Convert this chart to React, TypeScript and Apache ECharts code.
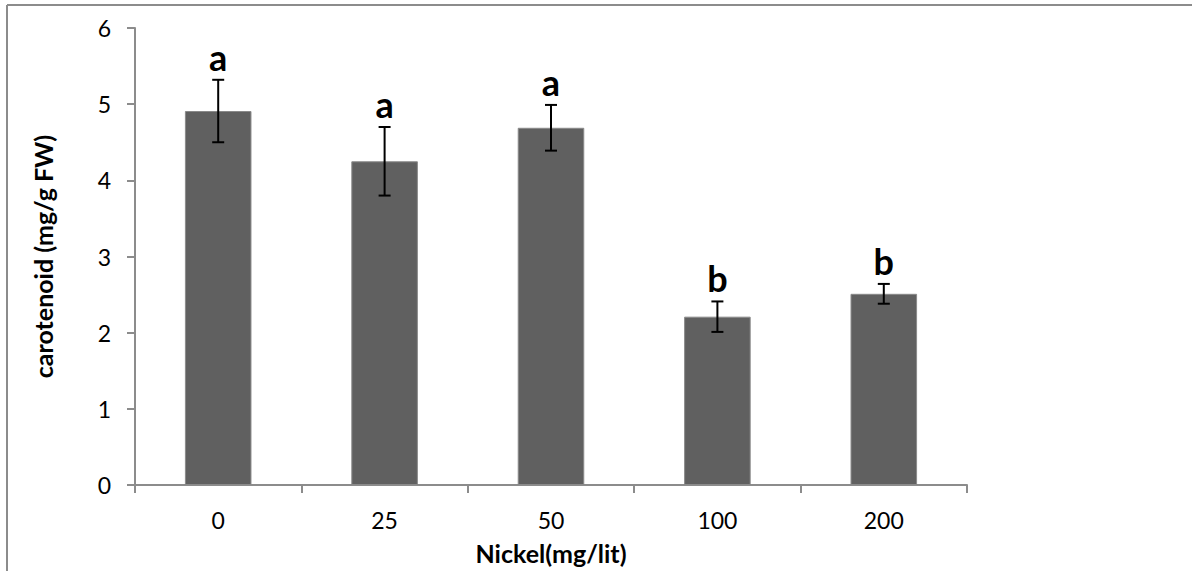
import React, { useEffect, useRef } from "react";
import * as echarts from "echarts";

const categories = ["0", "25", "50", "100", "200"];
const means = [4.91, 4.25, 4.69, 2.21, 2.51];
const errors = [0.41, 0.45, 0.3, 0.2, 0.13];
const letters = ["a", "a", "a", "b", "b"];
const yTicks = { min: 0, max: 6, interval: 1 };

export default function App() {
  const ref = useRef<HTMLDivElement>(null);
  useEffect(() => {
    if (!ref.current) return;
    const chart = echarts.init(ref.current, undefined, { renderer: "svg" });
    const font = "Lato";
    const errData = means.map((m, i) => [i, m, errors[i]]);
    chart.setOption({
      animation: false,
      backgroundColor: "#ffffff",
      grid: { left: 135, right: 225, top: 28, bottom: 86 },
      xAxis: {
        type: "category",
        data: categories,
        name: "Nickel(mg/lit)",
        nameLocation: "middle",
        nameGap: 55,
        nameTextStyle: { fontFamily: font, fontWeight: "bold", fontSize: 25, color: "#000" },
        axisLine: { lineStyle: { color: "#8c8c8c", width: 2 } },
        axisTick: { show: true, length: 8, lineStyle: { color: "#8c8c8c", width: 2 } },
        axisLabel: { fontFamily: font, fontSize: 23, color: "#000", margin: 23 },
      },
      yAxis: {
        type: "value",
        min: yTicks.min,
        max: yTicks.max,
        interval: yTicks.interval,
        name: "carotenoid (mg/g FW)",
        nameLocation: "middle",
        nameGap: 80,
        nameRotate: 90,
        nameTextStyle: { fontFamily: font, fontWeight: "bold", fontSize: 25, color: "#000" },
        axisLine: { show: true, lineStyle: { color: "#8c8c8c", width: 2 } },
        axisTick: { show: true, length: 8, lineStyle: { color: "#8c8c8c", width: 2 } },
        splitLine: { show: false },
        axisLabel: { fontFamily: font, fontSize: 23, color: "#000", margin: 24 },
      },
      series: [
        {
          type: "bar",
          data: means,
          barWidth: "40%",
          itemStyle: { color: "#606060", borderColor: "#8a8a8a", borderWidth: 1 },
        },
        {
          type: "custom",
          data: errData,
          z: 10,
          renderItem: (params: any, api: any) => {
            const i = api.value(0);
            const m = api.value(1);
            const e = api.value(2);
            const top = api.coord([i, m + e]);
            const bot = api.coord([i, m - e]);
            const cap = 6;
            const st = { stroke: "#000", lineWidth: 2 };
            return {
              type: "group",
              children: [
                { type: "line", shape: { x1: top[0], y1: top[1], x2: bot[0], y2: bot[1] }, style: st },
                { type: "line", shape: { x1: top[0] - cap, y1: top[1], x2: top[0] + cap, y2: top[1] }, style: st },
                { type: "line", shape: { x1: bot[0] - cap, y1: bot[1], x2: bot[0] + cap, y2: bot[1] }, style: st },
                {
                  type: "text",
                  x: top[0],
                  y: top[1] - 5,
                  style: {
                    text: letters[params.dataIndex],
                    fontFamily: font,
                    fontWeight: "bold",
                    fontSize: 36,
                    fill: "#000",
                    align: "center",
                    verticalAlign: "bottom",
                  },
                },
              ],
            };
          },
        },
      ],
      graphic: [
        { type: "line", shape: { x1: 7, y1: 5, x2: 1192, y2: 5 }, style: { stroke: "#8c8c8c", lineWidth: 2 } },
        { type: "line", shape: { x1: 7, y1: 5, x2: 7, y2: 571 }, style: { stroke: "#8c8c8c", lineWidth: 2 } },
      ],
    });
    return () => chart.dispose();
  }, []);
  return (
    <div
      ref={ref}
      style={{ position: "fixed", left: 0, top: 0, width: 1192, height: 571, background: "#fff" }}
    />
  );
}
